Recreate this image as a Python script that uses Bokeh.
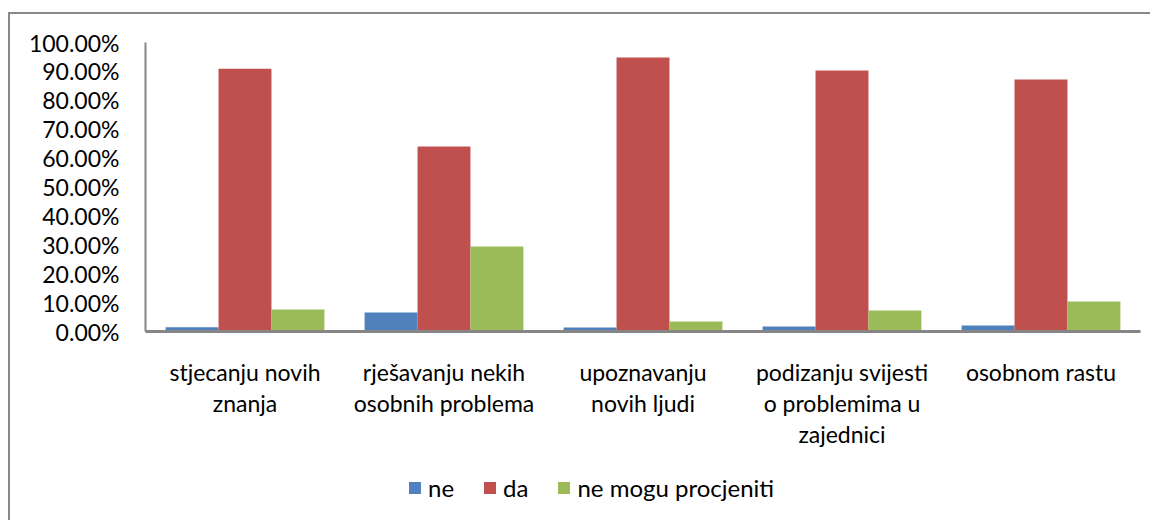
from bokeh.plotting import figure
from bokeh.layouts import column
from bokeh.models import (FactorRange, Range1d, FixedTicker, NumeralTickFormatter,
                          ColumnDataSource, Legend, LegendItem)
from bokeh.transform import dodge
from bokeh.embed import file_html
from bokeh.resources import INLINE

categories = ["stjecanju novih\nznanja", "rješavanju nekih\nosobnih problema",
              "upoznavanju\nnovih ljudi", "podizanju svijesti\no problemima u\nzajednici",
              "osobnom rastu"]
series_names = ["ne", "da", "ne mogu procjeniti"]
ne = [0.015, 0.066, 0.014, 0.017, 0.021]
da = [0.909, 0.640, 0.948, 0.903, 0.872]
ne_mogu = [0.076, 0.294, 0.035, 0.073, 0.104]
colors = ["#4F81BD", "#C0504D", "#9BBB59"]
y_ticks = [0, 0.1, 0.2, 0.3, 0.4, 0.5, 0.6, 0.7, 0.8, 0.9, 1.0]

FONT = "Lato"
GRAY = "#868686"

src = ColumnDataSource(dict(cat=categories, ne=ne, da=da, nm=ne_mogu))
fields = ["ne", "da", "nm"]
w = 0.266
offsets = [-w, 0, w]

p = figure(x_range=FactorRange(*categories), y_range=Range1d(0, 1.0),
           width=1140, height=446, output_backend="svg", toolbar_location=None,
           min_border_top=28, min_border_left=135, min_border_right=10,
           min_border_bottom=129)
p.outline_line_color = None
p.grid.visible = False

for f, off, c in zip(fields, offsets, colors):
    p.vbar(x=dodge("cat", off, range=p.x_range), top=f, width=w, source=src,
           color=c, line_color=None)

p.yaxis.ticker = FixedTicker(ticks=y_ticks)
p.yaxis.formatter = NumeralTickFormatter(format="0.00%")
p.yaxis.major_tick_line_color = None
p.yaxis.minor_tick_line_color = None
p.yaxis.axis_line_color = GRAY
p.yaxis.axis_line_width = 2
p.yaxis.major_label_standoff = 20
p.yaxis.major_label_text_font = FONT
p.yaxis.major_label_text_font_size = "23px"
p.yaxis.major_label_text_color = "black"

p.xaxis.major_tick_line_color = None
p.xaxis.minor_tick_line_color = None
p.xaxis.axis_line_color = GRAY
p.xaxis.axis_line_width = 3
p.xaxis.major_label_standoff = 20
p.xaxis.major_label_text_font = FONT
p.xaxis.major_label_text_font_size = "23px"
p.xaxis.major_label_text_color = "black"
p.xaxis.major_label_text_line_height = 1.12

# legend strip below the chart (hidden proxies of the same series)
q = figure(x_range=FactorRange(*categories), y_range=Range1d(0, 1), width=1140, height=60,
           output_backend="svg", toolbar_location=None,
           min_border_left=0, min_border_right=0, min_border_top=0, min_border_bottom=0)
q.axis.visible = False
q.grid.visible = False
q.outline_line_color = None
lr = []
for f, off, c in zip(fields, offsets, colors):
    r = q.vbar(x=dodge("cat", off, range=q.x_range), top=f, width=w, source=src,
               color=c, line_color=None)
    r.visible = False
    lr.append(r)

legend = Legend(items=[LegendItem(label=n, renderers=[r]) for n, r in zip(series_names, lr)],
                orientation="horizontal", location=(262, 18))
legend.border_line_color = None
legend.background_fill_alpha = 0
legend.inactive_fill_alpha = 0
legend.label_text_font = FONT
legend.label_text_font_size = "24px"
legend.label_text_color = "black"
legend.glyph_width = 15
legend.glyph_height = 15
legend.label_standoff = 6
legend.spacing = 28
legend.margin = 0
legend.padding = 0
q.add_layout(legend, "center")

layout = column(p, q, spacing=0)
layout.margin = (12, 0, 0, 8)
layout.styles = {"border-left": "2px solid #888888", "border-top": "2px solid #888888"}

open("out.html", "w").write(file_html(layout, INLINE))
